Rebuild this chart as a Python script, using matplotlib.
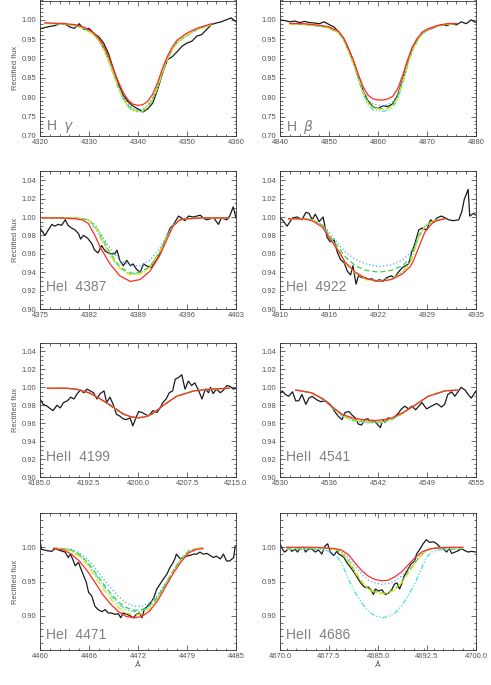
import matplotlib
matplotlib.use("Agg")
import matplotlib.pyplot as plt
from matplotlib.ticker import FixedLocator, MultipleLocator

# ---- H gamma ----
hg_obs_wave = [4320, 4321, 4322, 4323, 4324, 4325, 4326, 4327, 4328, 4329, 4330, 4331, 4332, 4333,
               4334, 4335, 4336, 4337, 4338, 4339, 4340, 4341, 4342, 4343, 4344, 4345, 4346, 4347,
               4348, 4349, 4350, 4351, 4352, 4353, 4354, 4355, 4356, 4357, 4358, 4359, 4360]
hg_obs = [0.977, 0.980, 0.983, 0.985, 0.990, 0.991, 0.982, 0.978, 0.990, 0.975, 0.978, 0.965, 0.956, 0.940,
          0.912, 0.872, 0.835, 0.805, 0.788, 0.777, 0.770, 0.762, 0.770, 0.785, 0.820, 0.862, 0.897, 0.905,
          0.918, 0.932, 0.940, 0.945, 0.958, 0.962, 0.975, 0.988, 0.992, 0.995, 1.000, 1.005, 0.995]
hg_mod_wave = [4321, 4324, 4327, 4329, 4331, 4332, 4333, 4334, 4335, 4336, 4337, 4338, 4339, 4340,
               4341, 4342, 4343, 4344, 4345, 4346, 4347, 4348, 4350, 4352, 4355]
hg_red = [0.992, 0.991, 0.988, 0.981, 0.966, 0.952, 0.932, 0.905, 0.872, 0.840, 0.812, 0.793, 0.782, 0.779,
          0.781, 0.790, 0.808, 0.838, 0.875, 0.906, 0.930, 0.948, 0.966, 0.978, 0.990]
hg_cyan = [0.991, 0.990, 0.986, 0.978, 0.962, 0.946, 0.924, 0.894, 0.858, 0.823, 0.794, 0.775, 0.765, 0.762,
           0.764, 0.774, 0.793, 0.825, 0.864, 0.897, 0.922, 0.941, 0.959, 0.974, 0.988]
hg_yellow = [0.991, 0.990, 0.986, 0.978, 0.962, 0.946, 0.925, 0.895, 0.859, 0.825, 0.796, 0.777, 0.767, 0.764,
             0.766, 0.776, 0.795, 0.826, 0.865, 0.898, 0.923, 0.942, 0.960, 0.975, 0.988]
hg_green = [0.991, 0.990, 0.986, 0.978, 0.962, 0.947, 0.925, 0.896, 0.860, 0.826, 0.797, 0.778, 0.768, 0.765,
            0.767, 0.777, 0.796, 0.827, 0.866, 0.899, 0.924, 0.943, 0.960, 0.975, 0.988]
hg_blue = [0.991, 0.990, 0.987, 0.979, 0.963, 0.948, 0.927, 0.898, 0.863, 0.829, 0.800, 0.781, 0.771, 0.768,
           0.770, 0.780, 0.799, 0.830, 0.868, 0.900, 0.925, 0.944, 0.961, 0.976, 0.989]

# ---- H beta ----
hb_obs_wave = [4840, 4841, 4842, 4843, 4844, 4845, 4846, 4847, 4848, 4849, 4850, 4851, 4852, 4853,
               4854, 4855, 4856, 4857, 4858, 4859, 4860, 4861, 4862, 4863, 4864, 4865, 4866, 4867,
               4868, 4869, 4870, 4871, 4872, 4873, 4874, 4875, 4876, 4877, 4878, 4879, 4880]
hb_obs = [1.000, 0.998, 0.995, 0.997, 0.993, 0.996, 0.993, 0.992, 0.990, 0.995, 0.988, 0.982, 0.968, 0.952,
          0.925, 0.893, 0.855, 0.815, 0.790, 0.775, 0.771, 0.778, 0.776, 0.783, 0.805, 0.845, 0.890, 0.927,
          0.950, 0.965, 0.973, 0.978, 0.983, 0.988, 0.985, 0.990, 0.987, 0.995, 0.990, 1.000, 0.993]
hb_mod_wave = [4842, 4845, 4848, 4850, 4852, 4853, 4854, 4855, 4856, 4857, 4858, 4859, 4860, 4861,
               4862, 4863, 4864, 4865, 4866, 4867, 4868, 4869, 4870, 4872, 4874, 4876]
hb_red = [0.991, 0.990, 0.986, 0.982, 0.970, 0.953, 0.925, 0.895, 0.858, 0.826, 0.805, 0.796, 0.793, 0.793,
          0.796, 0.802, 0.822, 0.855, 0.895, 0.930, 0.952, 0.968, 0.976, 0.985, 0.990, 0.991]
hb_cyan = [0.989, 0.988, 0.984, 0.979, 0.966, 0.948, 0.918, 0.885, 0.845, 0.806, 0.779, 0.768, 0.765, 0.764,
           0.766, 0.773, 0.795, 0.833, 0.879, 0.919, 0.945, 0.963, 0.973, 0.983, 0.988, 0.990]
hb_yellow = [0.989, 0.988, 0.984, 0.979, 0.966, 0.949, 0.920, 0.888, 0.850, 0.812, 0.785, 0.773, 0.770, 0.769,
             0.771, 0.778, 0.800, 0.838, 0.883, 0.922, 0.947, 0.964, 0.974, 0.984, 0.988, 0.990]
hb_green = [0.989, 0.988, 0.984, 0.979, 0.966, 0.949, 0.920, 0.888, 0.850, 0.812, 0.786, 0.774, 0.771, 0.770,
            0.772, 0.779, 0.801, 0.839, 0.884, 0.922, 0.947, 0.964, 0.974, 0.984, 0.988, 0.990]
hb_blue = [0.990, 0.989, 0.985, 0.980, 0.968, 0.951, 0.922, 0.891, 0.854, 0.818, 0.794, 0.783, 0.780, 0.779,
           0.781, 0.788, 0.809, 0.845, 0.888, 0.925, 0.949, 0.965, 0.975, 0.984, 0.989, 0.990]

# ---- HeI 4387 ----
he4387_obs_wave = [4375.0, 4375.7, 4376.7, 4377.1, 4377.6, 4378.1, 4378.6, 4379.0, 4379.5, 4380.0, 4380.5,
                   4380.8, 4381.2, 4381.8, 4382.4, 4382.8, 4383.3, 4383.8, 4384.3, 4385.0, 4385.7, 4386.0,
                   4386.4, 4386.9, 4387.4, 4387.9, 4388.3, 4388.8, 4389.3, 4389.8, 4390.2, 4390.9, 4391.4,
                   4392.1, 4392.9, 4393.6, 4394.0, 4394.8, 4395.2, 4395.7, 4396.2, 4396.9, 4397.9, 4398.3,
                   4398.8, 4399.8, 4400.5, 4400.9, 4401.7, 4402.1, 4402.6, 4403.0]
he4387_obs = [0.988, 0.980, 0.992, 0.990, 0.992, 0.991, 0.997, 0.991, 0.988, 0.986, 0.982,
              0.976, 0.980, 0.977, 0.971, 0.964, 0.961, 0.969, 0.963, 0.960, 0.960, 0.964,
              0.953, 0.947, 0.953, 0.947, 0.949, 0.943, 0.940, 0.949, 0.947, 0.945, 0.951,
              0.960, 0.975, 0.988, 0.991, 1.001, 0.999, 0.996, 1.001, 1.000, 1.002, 0.999,
              0.997, 0.999, 0.992, 0.999, 0.997, 1.001, 1.011, 0.999]
he4387_mod_wave = [4375.3, 4378.0, 4380.0, 4381.0, 4381.9, 4382.9, 4383.6, 4385.0, 4386.4, 4387.9, 4389.3,
                   4390.7, 4392.1, 4393.1, 4394.0, 4395.0, 4396.0, 4398.0, 4402.0]
he4387_red = [0.999, 0.999, 0.998, 0.997, 0.993, 0.979, 0.967, 0.949, 0.936, 0.930, 0.932,
              0.941, 0.958, 0.975, 0.990, 0.997, 0.998, 0.999, 0.999]
he4387_cyan = [0.999, 0.999, 0.999, 0.998, 0.996, 0.988, 0.978, 0.958, 0.944, 0.938, 0.939,
               0.946, 0.962, 0.979, 0.991, 0.997, 0.998, 0.999, 0.999]
he4387_yellow = [0.999, 0.999, 0.999, 0.998, 0.997, 0.990, 0.980, 0.959, 0.944, 0.937, 0.938,
                 0.945, 0.961, 0.978, 0.990, 0.997, 0.998, 0.999, 0.999]
he4387_green = [0.999, 0.999, 0.999, 0.998, 0.997, 0.990, 0.981, 0.961, 0.946, 0.939, 0.940,
                0.946, 0.962, 0.978, 0.990, 0.997, 0.998, 0.999, 0.999]
he4387_blue = [0.999, 0.999, 0.999, 0.998, 0.997, 0.991, 0.983, 0.966, 0.953, 0.947, 0.947,
               0.953, 0.966, 0.980, 0.991, 0.997, 0.998, 0.999, 0.999]

# ---- HeI 4922 ----
he4922_obs_wave = [4910.0, 4910.3, 4910.9, 4911.6, 4912.2, 4912.8, 4913.3, 4913.7, 4914.1, 4914.5, 4915.0,
                   4915.5, 4916.0, 4916.4, 4916.9, 4917.3, 4917.7, 4918.2, 4918.6, 4919.0, 4919.3, 4919.7,
                   4920.0, 4920.5, 4920.9, 4921.3, 4921.7, 4922.2, 4922.7, 4923.1, 4923.6, 4924.2, 4924.6,
                   4925.1, 4925.6, 4926.0, 4926.4, 4926.8, 4927.2, 4927.7, 4928.1, 4928.7, 4929.2, 4929.6,
                   4930.0, 4930.6, 4931.5, 4932.1, 4932.8, 4933.2, 4933.5, 4934.0, 4934.2, 4934.7, 4935.0]
he4922_obs = [0.999, 0.997, 0.990, 0.999, 1.000, 0.997, 1.005, 1.004, 0.997, 1.003, 0.995,
              1.000, 0.978, 0.973, 0.975, 0.962, 0.954, 0.950, 0.941, 0.937, 0.947, 0.927,
              0.936, 0.934, 0.934, 0.932, 0.933, 0.930, 0.932, 0.930, 0.934, 0.936, 0.934,
              0.940, 0.945, 0.947, 0.949, 0.962, 0.971, 0.986, 0.988, 0.986, 0.997, 0.994,
              0.999, 1.001, 0.997, 0.996, 0.997, 1.006, 1.019, 1.030, 1.001, 1.004, 1.002]
he4922_mod_wave = [4911.1, 4913.0, 4914.1, 4915.4, 4916.4, 4917.7, 4918.3, 4919.6, 4921.0, 4922.6, 4924.2,
                   4925.6, 4926.6, 4927.0, 4927.7, 4928.5, 4929.6, 4931.0]
he4922_red = [0.998, 0.998, 0.996, 0.989, 0.976, 0.960, 0.951, 0.940, 0.933, 0.930, 0.932,
              0.938, 0.946, 0.952, 0.967, 0.984, 0.995, 0.998]
he4922_cyan = [0.998, 0.998, 0.997, 0.991, 0.978, 0.960, 0.950, 0.939, 0.933, 0.931, 0.933,
               0.940, 0.951, 0.960, 0.979, 0.990, 0.996, 0.998]
he4922_yellow = [0.998, 0.998, 0.997, 0.990, 0.977, 0.960, 0.950, 0.939, 0.932, 0.930, 0.932,
                 0.940, 0.950, 0.959, 0.978, 0.990, 0.996, 0.998]
he4922_green = [0.998, 0.998, 0.997, 0.991, 0.979, 0.964, 0.957, 0.947, 0.942, 0.940, 0.942,
                0.947, 0.955, 0.963, 0.979, 0.990, 0.996, 0.998]
he4922_blue = [0.998, 0.998, 0.997, 0.992, 0.982, 0.968, 0.962, 0.954, 0.949, 0.946, 0.948,
               0.953, 0.961, 0.967, 0.980, 0.990, 0.996, 0.998]

# ---- HeII 4199 ----
he4199_obs_wave = [4185.0, 4185.5, 4186.1, 4186.6, 4187.0, 4187.6, 4188.1, 4188.6, 4189.2, 4189.7, 4190.2,
                   4190.7, 4191.2, 4191.7, 4192.2, 4192.7, 4193.2, 4193.7, 4194.2, 4194.8, 4195.2, 4195.7,
                   4196.2, 4196.7, 4197.2, 4197.7, 4198.2, 4198.8, 4199.2, 4199.8, 4200.1, 4200.6, 4201.1,
                   4201.6, 4202.3, 4202.9, 4203.3, 4203.8, 4204.3, 4204.8, 4205.3, 4205.7, 4206.2, 4206.7,
                   4207.2, 4207.7, 4208.2, 4208.7, 4209.3, 4209.8, 4210.3, 4210.8, 4211.1, 4211.5, 4212.0,
                   4212.6, 4213.1, 4213.6, 4214.1, 4214.6, 4215.0]
he4199_obs = [0.987, 0.981, 0.979, 0.976, 0.974, 0.980, 0.977, 0.983, 0.985, 0.989, 0.987,
              0.993, 0.997, 0.994, 0.998, 0.996, 0.994, 0.987, 0.993, 0.996, 0.983, 0.989,
              0.981, 0.970, 0.968, 0.965, 0.964, 0.966, 0.957, 0.968, 0.973, 0.972, 0.970,
              0.968, 0.974, 0.972, 0.976, 0.983, 0.987, 0.994, 0.996, 1.009, 1.011, 1.014,
              0.998, 1.007, 1.002, 1.005, 0.996, 0.987, 0.998, 0.994, 1.000, 0.993, 0.998,
              0.994, 0.997, 1.002, 1.001, 0.998, 0.999]
he4199_mod_wave = [4186.1, 4189.0, 4190.5, 4192.5, 4194.0, 4195.8, 4197.0, 4197.8, 4199.0, 4200.0,
                   4201.0, 4202.1, 4203.0, 4203.9, 4205.9, 4208.5, 4211.0, 4214.0]
he4199_red = [0.999, 0.999, 0.998, 0.994, 0.988, 0.980, 0.974, 0.970, 0.967, 0.966,
              0.967, 0.970, 0.975, 0.980, 0.990, 0.996, 0.998, 0.999]
he4199_cyan = [0.999, 0.999, 0.998, 0.994, 0.988, 0.979, 0.973, 0.970, 0.967, 0.966,
               0.967, 0.970, 0.975, 0.980, 0.990, 0.996, 0.998, 0.999]
he4199_yellow = [0.999, 0.999, 0.998, 0.994, 0.988, 0.980, 0.974, 0.970, 0.967, 0.966,
                 0.967, 0.970, 0.975, 0.980, 0.990, 0.996, 0.998, 0.999]
he4199_green = [0.999, 0.999, 0.998, 0.994, 0.988, 0.980, 0.974, 0.970, 0.967, 0.966,
                0.967, 0.970, 0.975, 0.980, 0.990, 0.996, 0.998, 0.999]
he4199_blue = [0.999, 0.999, 0.998, 0.994, 0.988, 0.980, 0.974, 0.971, 0.967, 0.966,
               0.967, 0.970, 0.975, 0.980, 0.990, 0.996, 0.998, 0.999]

# ---- HeII 4541 ----
he4541_obs_wave = [4530.0, 4530.3, 4530.7, 4531.1, 4531.6, 4532.0, 4532.4, 4532.8, 4533.3, 4533.7, 4534.1,
                   4534.7, 4535.2, 4535.8, 4536.4, 4536.9, 4537.4, 4537.9, 4538.3, 4538.8, 4539.2, 4539.6,
                   4540.0, 4540.4, 4540.8, 4541.2, 4541.6, 4542.0, 4542.5, 4542.8, 4543.1, 4543.4, 4543.8,
                   4544.3, 4544.7, 4545.1, 4545.4, 4545.9, 4546.4, 4546.8, 4547.3, 4547.7, 4548.1, 4548.7,
                   4549.3, 4550.0, 4550.6, 4551.0, 4551.4, 4551.9, 4552.3, 4552.7, 4553.1, 4553.6, 4554.0,
                   4554.4, 4555.0]
he4541_obs = [0.993, 0.996, 0.992, 0.990, 0.995, 0.985, 0.985, 0.992, 0.981, 0.988, 0.990,
              0.986, 0.984, 0.985, 0.981, 0.974, 0.968, 0.964, 0.972, 0.973, 0.969, 0.966,
              0.959, 0.958, 0.964, 0.965, 0.961, 0.963, 0.958, 0.955, 0.964, 0.961, 0.966,
              0.964, 0.968, 0.971, 0.975, 0.979, 0.976, 0.979, 0.975, 0.979, 0.983, 0.976,
              0.979, 0.982, 0.978, 0.981, 0.992, 0.995, 0.990, 0.995, 1.000, 0.997, 0.992,
              0.988, 0.996]
he4541_mod_wave = [4532.0, 4534.0, 4535.5, 4536.4, 4537.9, 4539.2, 4540.5, 4542.1, 4543.3, 4544.3,
                   4545.5, 4547.2, 4548.9, 4551.0, 4552.7]
he4541_red = [0.997, 0.994, 0.987, 0.980, 0.970, 0.966, 0.964, 0.963, 0.964, 0.966,
              0.971, 0.980, 0.990, 0.996, 0.997]
he4541_cyan = [0.997, 0.994, 0.986, 0.979, 0.968, 0.963, 0.961, 0.960, 0.961, 0.964,
               0.970, 0.980, 0.990, 0.996, 0.997]
he4541_yellow = [0.997, 0.994, 0.987, 0.980, 0.969, 0.964, 0.962, 0.961, 0.962, 0.965,
                 0.970, 0.980, 0.990, 0.996, 0.997]
he4541_green = [0.997, 0.994, 0.987, 0.980, 0.969, 0.964, 0.962, 0.961, 0.962, 0.965,
                0.970, 0.980, 0.990, 0.996, 0.997]
he4541_blue = [0.997, 0.994, 0.987, 0.980, 0.970, 0.965, 0.963, 0.962, 0.963, 0.966,
               0.971, 0.980, 0.990, 0.996, 0.997]

# ---- HeI 4471 ----
he4471_obs_wave = [4460.0, 4460.2, 4460.9, 4461.5, 4461.9, 4462.6, 4463.2, 4463.6, 4463.9, 4464.5, 4464.9,
                   4465.3, 4465.9, 4466.2, 4466.6, 4467.0, 4467.4, 4467.9, 4468.3, 4468.7, 4469.1, 4469.6,
                   4470.0, 4470.3, 4470.6, 4471.1, 4471.5, 4471.9, 4472.3, 4472.7, 4473.0, 4473.3, 4473.7,
                   4474.1, 4474.5, 4474.9, 4475.3, 4475.7, 4476.2, 4476.6, 4476.9, 4477.2, 4477.4, 4477.9,
                   4478.3, 4478.7, 4479.1, 4479.6, 4480.0, 4480.4, 4480.8, 4481.3, 4481.7, 4482.1, 4482.5,
                   4483.0, 4483.4, 4483.8, 4484.2, 4484.7, 4484.9]
he4471_obs = [1.010, 0.997, 0.995, 0.994, 0.998, 0.995, 0.993, 0.985, 0.990, 0.973, 0.978,
              0.966, 0.949, 0.934, 0.929, 0.914, 0.909, 0.906, 0.909, 0.904, 0.904, 0.902,
              0.903, 0.897, 0.904, 0.902, 0.900, 0.897, 0.902, 0.904, 0.897, 0.909, 0.914,
              0.919, 0.926, 0.939, 0.946, 0.953, 0.961, 0.971, 0.976, 0.983, 0.990, 0.983,
              0.985, 0.987, 0.988, 0.990, 0.990, 0.993, 0.990, 0.991, 0.988, 0.985, 0.987,
              0.983, 0.990, 0.980, 0.980, 0.985, 1.002]
he4471_mod_wave = [4461.7, 4463.0, 4464.0, 4465.0, 4466.0, 4467.0, 4468.0, 4469.0, 4470.0, 4471.0,
                   4472.0, 4473.0, 4474.0, 4475.0, 4476.0, 4477.0, 4478.0, 4479.0, 4480.0, 4480.8]
he4471_red = [0.998, 0.996, 0.990, 0.980, 0.966, 0.949, 0.931, 0.917, 0.906, 0.899,
              0.897, 0.899, 0.907, 0.922, 0.942, 0.962, 0.979, 0.992, 0.997, 0.998]
he4471_cyan = [0.999, 0.998, 0.995, 0.989, 0.978, 0.962, 0.945, 0.930, 0.917, 0.909,
               0.906, 0.907, 0.913, 0.926, 0.945, 0.965, 0.982, 0.994, 0.998, 0.999]
he4471_yellow = [0.999, 0.997, 0.994, 0.987, 0.975, 0.958, 0.940, 0.925, 0.912, 0.904,
                 0.901, 0.903, 0.910, 0.924, 0.943, 0.964, 0.981, 0.993, 0.998, 0.999]
he4471_green = [0.999, 0.998, 0.996, 0.990, 0.979, 0.964, 0.948, 0.933, 0.920, 0.912,
                0.908, 0.909, 0.915, 0.928, 0.946, 0.966, 0.983, 0.995, 0.998, 0.999]
he4471_blue = [0.999, 0.998, 0.997, 0.992, 0.983, 0.970, 0.955, 0.941, 0.928, 0.919,
               0.914, 0.914, 0.919, 0.930, 0.947, 0.966, 0.983, 0.995, 0.998, 0.999]

# ---- HeII 4686 ----
he4686_obs_wave = [4670.0, 4670.4, 4670.7, 4671.0, 4671.4, 4671.8, 4672.3, 4672.7, 4673.1, 4673.6, 4673.9,
                   4674.3, 4674.8, 4675.4, 4675.9, 4676.4, 4676.9, 4677.3, 4677.7, 4678.2, 4678.7, 4679.0,
                   4679.4, 4679.8, 4680.2, 4680.6, 4681.0, 4681.5, 4682.0, 4682.5, 4682.9, 4683.3, 4683.5,
                   4683.9, 4684.3, 4684.6, 4685.1, 4685.6, 4686.1, 4686.6, 4687.1, 4687.5, 4687.9, 4688.3,
                   4688.6, 4689.0, 4689.5, 4690.0, 4690.6, 4690.9, 4691.4, 4691.9, 4692.4, 4692.9, 4693.5,
                   4694.0, 4694.5, 4695.0, 4695.5, 4695.9, 4696.3, 4696.8, 4697.3, 4697.8, 4698.3, 4698.8,
                   4699.3, 4700.0]
he4686_obs = [1.005, 0.997, 0.993, 0.995, 1.000, 0.994, 0.997, 0.993, 0.999, 1.000, 0.993,
              0.997, 0.998, 0.993, 0.996, 0.990, 1.002, 1.005, 0.993, 0.988, 0.994, 0.990,
              0.988, 0.985, 0.978, 0.973, 0.968, 0.961, 0.953, 0.946, 0.942, 0.941, 0.942,
              0.938, 0.931, 0.939, 0.936, 0.938, 0.931, 0.933, 0.938, 0.946, 0.948, 0.939,
              0.946, 0.958, 0.966, 0.975, 0.980, 0.990, 0.997, 1.005, 1.011, 1.007, 1.008,
              1.005, 1.000, 0.998, 0.993, 0.998, 0.991, 0.993, 0.995, 0.998, 0.995, 0.993,
              0.994, 0.993]
he4686_mod_wave = [4671.0, 4675.0, 4677.0, 4678.4, 4679.4, 4680.5, 4681.5, 4682.5, 4683.5, 4684.5,
                   4685.6, 4686.6, 4687.6, 4688.6, 4689.6, 4690.7, 4691.7, 4692.4, 4693.2, 4694.2,
                   4696.0, 4698.0]
he4686_red = [1.000, 1.000, 0.999, 0.998, 0.996, 0.989, 0.977, 0.966, 0.958, 0.953,
              0.951, 0.952, 0.957, 0.964, 0.974, 0.985, 0.993, 0.996, 0.998, 0.999,
              1.000, 1.000]
he4686_cyan = [0.997, 0.997, 0.996, 0.990, 0.978, 0.953, 0.934, 0.919, 0.907, 0.900,
               0.897, 0.899, 0.904, 0.914, 0.929, 0.948, 0.970, 0.985, 0.993, 0.996,
               0.997, 0.997]
he4686_yellow = [0.999, 0.999, 0.999, 0.997, 0.992, 0.979, 0.963, 0.949, 0.939, 0.934,
                 0.932, 0.933, 0.938, 0.948, 0.962, 0.977, 0.989, 0.995, 0.998, 0.999,
                 0.999, 0.999]
he4686_green = [0.999, 0.999, 0.999, 0.997, 0.992, 0.980, 0.964, 0.950, 0.940, 0.935,
                0.933, 0.934, 0.939, 0.949, 0.963, 0.978, 0.989, 0.995, 0.998, 0.999,
                0.999, 0.999]
he4686_blue = [0.999, 0.999, 0.999, 0.998, 0.994, 0.984, 0.972, 0.961, 0.952, 0.948,
               0.946, 0.947, 0.951, 0.958, 0.969, 0.981, 0.990, 0.995, 0.998, 0.999,
               0.999, 0.999]

# axis setups
hg_xticks = [4320, 4330, 4340, 4350, 4360]
hb_xticks = [4840, 4850, 4860, 4870, 4880]
he4387_xticks = [4375, 4382, 4389, 4396, 4403]
he4922_xticks = [4910, 4916.25, 4922.5, 4928.75, 4935]
he4199_xticks = [4185.0, 4192.5, 4200.0, 4207.5, 4215.0]
he4541_xticks = [4530, 4536.25, 4542.5, 4548.75, 4555]
he4471_xticks = [4460, 4466.25, 4472.5, 4478.75, 4485]
he4686_xticks = [4670.0, 4677.5, 4685.0, 4692.5, 4700.0]

TXT = '#555555'
MODEL_STYLES = [
    ('cyan', '#3ee0e0', (0, (4, 1.5, 1, 1.5, 1, 1.5))),
    ('blue', '#45aaf2', (0, (1, 1.8))),
    ('green', '#3ed23e', (0, (4, 2.5))),
    ('yellow', '#e8e000', (0, (5, 1.5, 1, 1.5))),
    ('red', '#ff2a2a', '-'),
]

plt.rcParams['font.family'] = ['Liberation Sans', 'DejaVu Sans']

fig = plt.figure(figsize=(4.91, 6.85), dpi=100)

W = 196 / 491
LEFT_X = 40 / 491
RIGHT_X = 280 / 491


def make_axes(x0, top_px, bot_px):
    return fig.add_axes([x0, 1 - bot_px / 685, W, (bot_px - top_px) / 685])


def style_axis(ax, xlim, xticks, xfmt, xminor, ylim, yticks, yminor, ylabel):
    ax.set_xlim(*xlim)
    ax.set_ylim(*ylim)
    ax.xaxis.set_major_locator(FixedLocator(xticks))
    ax.set_xticklabels([xfmt(t) for t in xticks])
    ax.xaxis.set_minor_locator(MultipleLocator(xminor))
    ax.yaxis.set_major_locator(FixedLocator(yticks))
    ax.set_yticklabels(['%.2f' % t for t in yticks])
    ax.yaxis.set_minor_locator(MultipleLocator(yminor))
    ax.tick_params(which='both', direction='in', top=True, right=True,
                   labelsize=5.5, labelcolor=TXT, color='#333333', width=0.5, pad=2.5)
    ax.tick_params(which='major', length=3.5)
    ax.tick_params(which='minor', length=1.8)
    for s in ax.spines.values():
        s.set_linewidth(0.6)
        s.set_color('#333333')
    if ylabel:
        ax.set_ylabel('Rectified flux', fontsize=5.5, color=TXT, labelpad=2)


def draw_panel(ax, obs_w, obs_f, mod_w, models, label, label_y):
    ax.plot(obs_w, obs_f, color='#1a1a1a', lw=0.9)
    for (name, color, ls), vals in zip(MODEL_STYLES, models):
        ax.plot(mod_w, vals, color=color, ls=ls, lw=0.9)
    ax.text(0.03, label_y, label, transform=ax.transAxes, fontsize=10,
            color='#808080', ha='left', va='center')


fmt_int = lambda t: '%d' % round(t)
fmt_1f = lambda t: '%.1f' % t

y_row1 = [0.70, 0.75, 0.80, 0.85, 0.90, 0.95, 1.00]
y_row23 = [0.90, 0.92, 0.94, 0.96, 0.98, 1.00, 1.02, 1.04]
y_row4 = [0.90, 0.95, 1.00]

# row 1
ax = make_axes(LEFT_X, 0.5, 136)
draw_panel(ax, hg_obs_wave, hg_obs, hg_mod_wave,
           [hg_cyan, hg_blue, hg_green, hg_yellow, hg_red], 'H  $\\gamma$', 0.07)
style_axis(ax, (4320, 4360), hg_xticks, fmt_int, 2, (0.70, 1.05), y_row1, 0.01, True)

ax = make_axes(RIGHT_X, 0.5, 136)
draw_panel(ax, hb_obs_wave, hb_obs, hb_mod_wave,
           [hb_cyan, hb_blue, hb_green, hb_yellow, hb_red], 'H  $\\beta$', 0.07)
style_axis(ax, (4840, 4880), hb_xticks, fmt_int, 2, (0.70, 1.05), y_row1, 0.01, False)

# row 2
ax = make_axes(LEFT_X, 171, 309)
draw_panel(ax, he4387_obs_wave, he4387_obs, he4387_mod_wave,
           [he4387_cyan, he4387_blue, he4387_green, he4387_yellow, he4387_red], 'HeI  4387', 0.16)
style_axis(ax, (4375, 4403), he4387_xticks, fmt_int, 1.4, (0.90, 1.05), y_row23, 0.005, True)

ax = make_axes(RIGHT_X, 171, 309)
draw_panel(ax, he4922_obs_wave, he4922_obs, he4922_mod_wave,
           [he4922_cyan, he4922_blue, he4922_green, he4922_yellow, he4922_red], 'HeI  4922', 0.16)
style_axis(ax, (4910, 4935), he4922_xticks, fmt_int, 1.25, (0.90, 1.05), y_row23, 0.005, False)

# row 3
ax = make_axes(LEFT_X, 342.5, 477)
draw_panel(ax, he4199_obs_wave, he4199_obs, he4199_mod_wave,
           [he4199_cyan, he4199_blue, he4199_green, he4199_yellow, he4199_red], 'HeII  4199', 0.15)
style_axis(ax, (4185, 4215), he4199_xticks, fmt_1f, 1.5, (0.90, 1.05), y_row23, 0.005, True)

ax = make_axes(RIGHT_X, 342.5, 477)
draw_panel(ax, he4541_obs_wave, he4541_obs, he4541_mod_wave,
           [he4541_cyan, he4541_blue, he4541_green, he4541_yellow, he4541_red], 'HeII  4541', 0.15)
style_axis(ax, (4530, 4555), he4541_xticks, fmt_int, 1.25, (0.90, 1.05), y_row23, 0.005, False)

# row 4
ax = make_axes(LEFT_X, 513, 650)
draw_panel(ax, he4471_obs_wave, he4471_obs, he4471_mod_wave,
           [he4471_cyan, he4471_blue, he4471_green, he4471_yellow, he4471_red], 'HeI  4471', 0.11)
style_axis(ax, (4460, 4485), he4471_xticks, fmt_int, 1.25, (0.85, 1.05), y_row4, 0.01, True)
ax.set_xlabel('Å', fontsize=6, color=TXT, labelpad=1)

ax = make_axes(RIGHT_X, 513, 650)
draw_panel(ax, he4686_obs_wave, he4686_obs, he4686_mod_wave,
           [he4686_cyan, he4686_blue, he4686_green, he4686_yellow, he4686_red], 'HeII  4686', 0.11)
style_axis(ax, (4670, 4700), he4686_xticks, fmt_1f, 1.5, (0.85, 1.05), y_row4, 0.01, False)
ax.set_xlabel('Å', fontsize=6, color=TXT, labelpad=1)

fig.savefig('out.png', dpi=100)
